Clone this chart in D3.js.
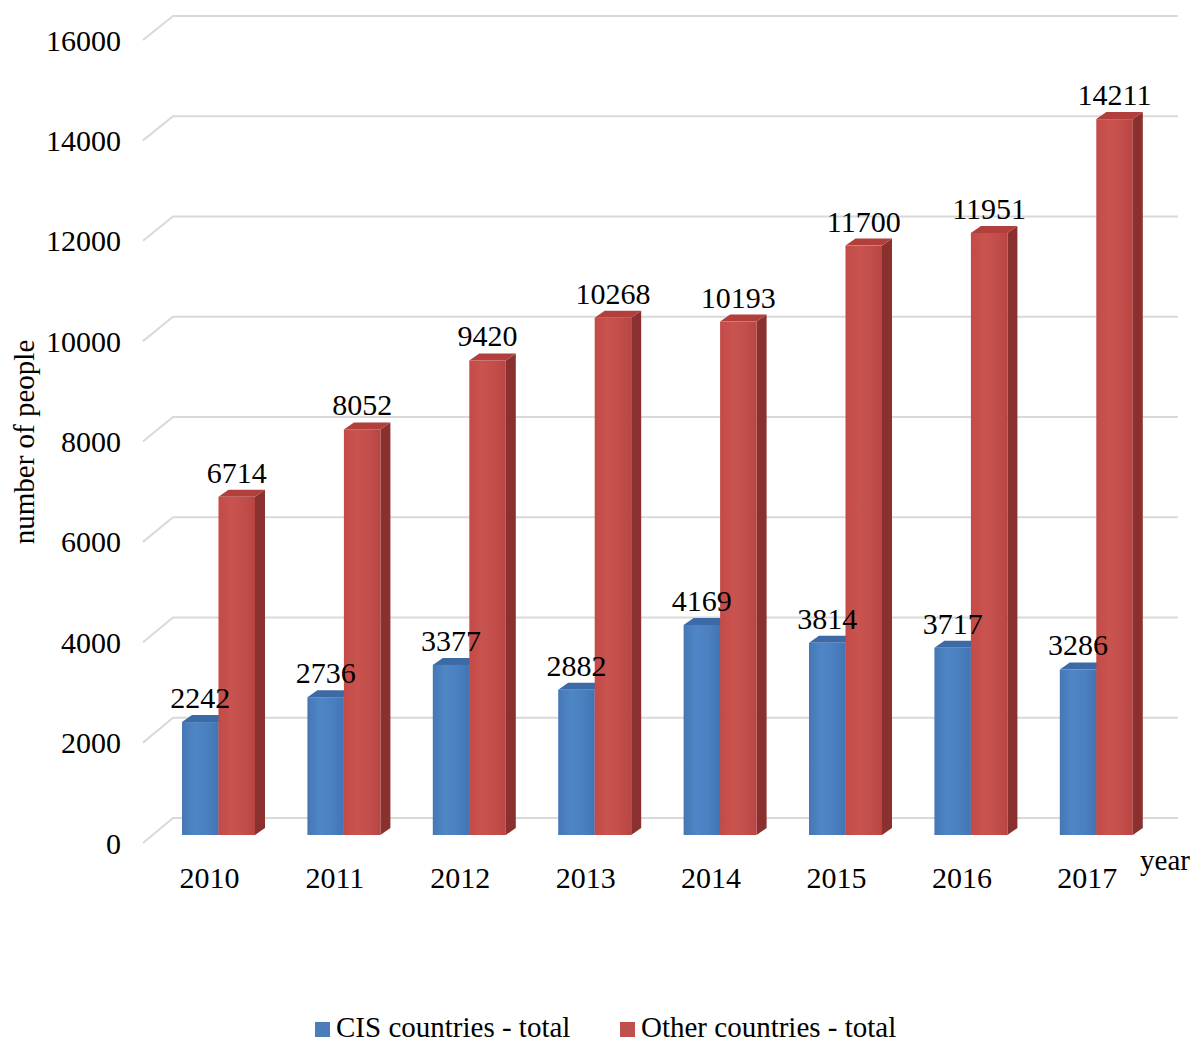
<!DOCTYPE html>
<html><head><meta charset="utf-8">
<script src="https://cdn.jsdelivr.net/npm/d3@7"></script>
<style>body{margin:0;background:#fff}svg{display:block}</style>
</head><body>
<svg id="c" width="1192" height="1044" font-family="'Liberation Serif', 'DejaVu Serif', 'Times New Roman', serif"></svg>
<script>
const years = ["2010","2011","2012","2013","2014","2015","2016","2017"];
const cisValues = [2242, 2736, 3377, 2882, 4169, 3814, 3717, 3286];
const otherValues = [6714, 8052, 9420, 10268, 10193, 11700, 11951, 14211];
const seriesNames = ["CIS countries - total", "Other countries - total"];
const yTicks = [0, 2000, 4000, 6000, 8000, 10000, 12000, 14000, 16000];

const FONT = "'Liberation Serif', 'DejaVu Serif', serif";
const svg = d3.select("#c");
const defs = svg.append("defs");
function grad(id, stops){
  const g = defs.append("linearGradient").attr("id", id).attr("x1","0").attr("x2","1").attr("y1","0").attr("y2","0");
  stops.forEach(s => g.append("stop").attr("offset", s[0]).attr("stop-color", s[1]));
}
grad("gBlue", [[0,"#4677b5"],[0.35,"#4f86c6"],[0.7,"#4a7fc0"],[1,"#4274b2"]]);
grad("gRed", [[0,"#c44a47"],[0.35,"#c9534f"],[0.75,"#c14d4a"],[1,"#b84542"]]);

const colors = {
  cis: {front:"url(#gBlue)", side:"#2f5a8e", top:"#3b6aa6", legend:"#4a7ebb"},
  other: {front:"url(#gRed)", side:"#8a302e", top:"#b13f3c", legend:"#c0504d"}
};

// scales
const yBar = d3.scaleLinear().domain([0,16000]).range([835, 29]);
const yFront = d3.scaleLinear().domain([0,16000]).range([843, 40]);
const yBack = d3.scaleLinear().domain([0,16000]).range([818, 16]);
const step = 125.4, groupW = 73;
const x = d3.scaleBand().domain(years).range([182, 182 + 7*step + groupW]).paddingInner(1 - groupW/step).paddingOuter(0);
const xs = d3.scaleBand().domain(["cis","other"]).range([0, x.bandwidth()]);

function txt(g, size){ return g.append("text").attr("font-family", FONT).attr("fill","#000").attr("font-size", size || 30); }

// gridlines
const grid = svg.append("g");
yTicks.forEach(t => {
  grid.append("path")
    .attr("d", `M143,${yFront(t)} L173,${yBack(t)} L1178,${yBack(t)}`)
    .attr("fill","none").attr("stroke","#d9d9d9").attr("stroke-width",2);
});

// y tick labels
const yl = svg.append("g");
yTicks.forEach(t => {
  txt(yl, 30).attr("x", 121).attr("y", yFront(t)).attr("dy","0.35em").attr("text-anchor","end").text(t);
});

// axis titles
txt(svg, 29).attr("transform","translate(34,442) rotate(-90)").attr("text-anchor","middle").text("number of people");
txt(svg, 29).attr("x",1165).attr("y",870).attr("text-anchor","middle").text("year");

// category labels
const xl = svg.append("g");
years.forEach(yr => {
  txt(xl, 30).attr("x", x(yr) + x.bandwidth()/2 - 9).attr("y", 888).attr("text-anchor","middle").text(yr);
});

// bars
const DX = 10, DY = -7;
const bw = xs.bandwidth();
function bar(g, x0, v, c){
  const y0 = yBar(0), y1 = yBar(v);
  g.append("path").attr("d", `M${x0+bw},${y1} L${x0+bw+DX},${y1+DY} L${x0+bw+DX},${y0+DY} L${x0+bw},${y0} Z`).attr("fill", c.side);
  g.append("path").attr("d", `M${x0},${y1} L${x0+DX},${y1+DY} L${x0+bw+DX},${y1+DY} L${x0+bw},${y1} Z`).attr("fill", c.top);
  g.append("rect").attr("x", x0).attr("y", y1).attr("width", bw).attr("height", y0-y1).attr("fill", c.front);
}
const bars = svg.append("g");
years.forEach((yr, i) => {
  const gx = x(yr);
  bar(bars, gx + xs("cis"), cisValues[i], colors.cis);
  bar(bars, gx + xs("other"), otherValues[i], colors.other);
});

// data labels
const labels = svg.append("g");
years.forEach((yr, i) => {
  const gx = x(yr);
  txt(labels, 30).attr("x", gx + xs("cis") + bw/2).attr("y", yBar(cisValues[i]) - 14).attr("text-anchor","middle").text(cisValues[i]);
  txt(labels, 30).attr("x", gx + xs("other") + bw/2).attr("y", yBar(otherValues[i]) - 14).attr("text-anchor","middle").text(otherValues[i]);
});

// legend
const leg = svg.append("g");
const legItems = [{name: seriesNames[0], c: colors.cis.legend, x: 315}, {name: seriesNames[1], c: colors.other.legend, x: 620}];
legItems.forEach(it => {
  leg.append("rect").attr("x", it.x).attr("y", 1022).attr("width", 15).attr("height", 15).attr("fill", it.c);
  txt(leg, 29).attr("x", it.x + 21).attr("y", 1037).text(it.name);
});
</script>
</body></html>
